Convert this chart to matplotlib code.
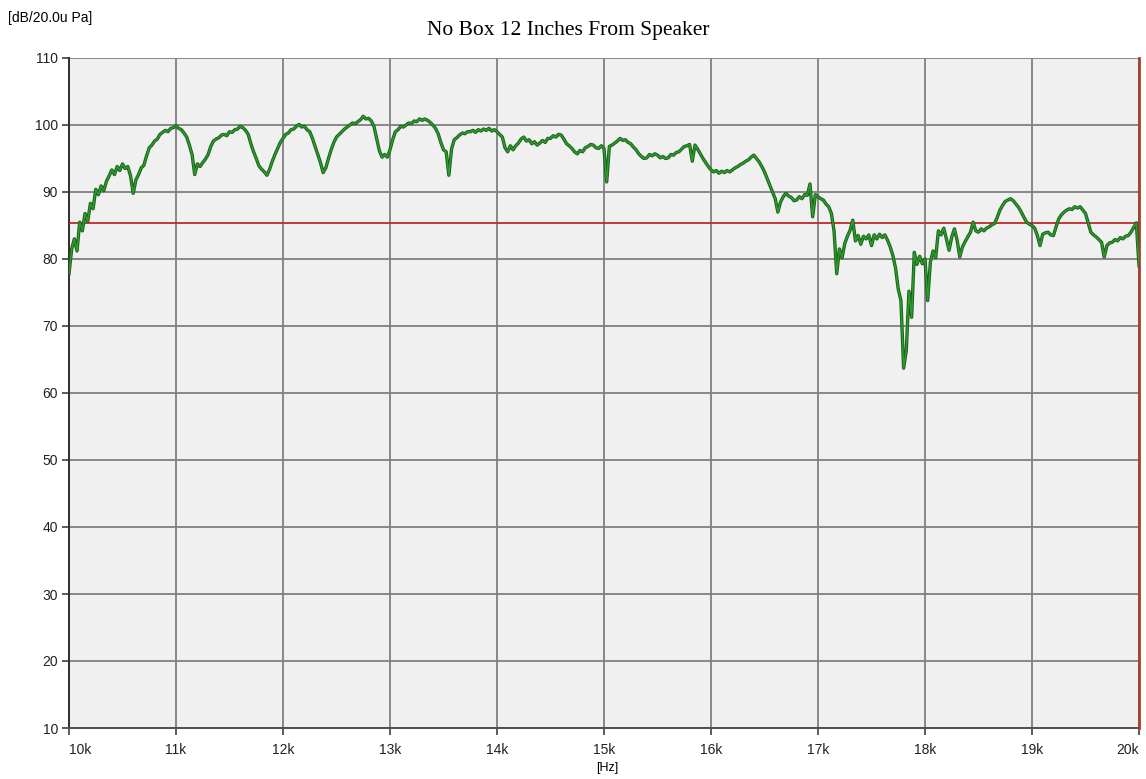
import numpy as np
import matplotlib
matplotlib.use('Agg')
import matplotlib.pyplot as plt
import matplotlib.patheffects as pe
#-----------------------------------------------------------------------------------------#

# sweep sampled every 25 Hz from 10 kHz to 20 kHz
freq_hz = np.arange(10000, 20001, 25)

level_db = [
    # 10000 - 10475
    77.8, 81.5, 83.0, 81.2, 85.5, 84.2, 86.8, 85.6, 88.3, 87.5,
    90.4, 89.6, 90.9, 90.2, 91.6, 92.4, 93.3, 92.6, 93.8, 93.2,
    # 10500 - 10975
    94.2, 93.5, 93.8, 92.4, 89.8, 91.8, 92.6, 93.6, 94.0, 95.4,
    96.6, 97.0, 97.6, 97.9, 98.6, 98.9, 99.2, 99.0, 99.5, 99.6,
    # 11000 - 11475
    99.9, 99.5, 99.3, 98.8, 98.2, 97.0, 95.6, 92.6, 94.2, 93.8,
    94.4, 94.9, 95.6, 96.8, 97.6, 97.9, 98.1, 98.5, 98.6, 98.4,
    # 11500 - 11975
    99.0, 98.9, 99.3, 99.4, 99.8, 99.6, 99.2, 98.6, 97.2, 96.0,
    95.0, 93.9, 93.4, 93.0, 92.5, 93.4, 94.6, 95.6, 96.5, 97.4,
    # 12000 - 12475
    98.0, 98.6, 98.8, 99.3, 99.4, 99.8, 100.1, 99.7, 99.8, 99.3,
    99.0, 98.0, 96.8, 95.6, 94.4, 92.9, 93.6, 95.0, 96.3, 97.4,
    # 12500 - 12975
    98.2, 98.6, 99.0, 99.4, 99.7, 100.0, 100.3, 100.2, 100.5, 100.8,
    101.3, 100.9, 101.0, 100.6, 99.8, 98.0, 96.2, 95.2, 95.6, 95.2,
    # 13000 - 13475
    96.3, 97.8, 99.0, 99.3, 99.8, 99.7, 100.0, 100.3, 100.2, 100.6,
    100.5, 100.9, 100.7, 100.9, 100.7, 100.4, 100.0, 99.5, 98.7, 97.4,
    # 13500 - 13975
    96.3, 96.0, 92.5, 96.4, 97.8, 98.1, 98.5, 98.8, 98.7, 99.0,
    99.0, 99.2, 98.9, 99.3, 99.1, 99.4, 99.2, 99.5, 99.1, 99.3,
    # 14000 - 14475
    99.0, 98.6, 98.2, 96.6, 96.0, 96.9, 96.3, 96.9, 97.3, 97.9,
    98.2, 97.6, 97.8, 97.2, 97.5, 97.0, 97.3, 97.7, 97.4, 98.0,
    # 14500 - 14975
    98.0, 98.4, 98.2, 98.6, 98.5, 97.9, 97.2, 96.9, 96.5, 96.0,
    95.7, 96.2, 96.0, 96.6, 96.8, 97.1, 97.0, 96.6, 96.5, 96.9,
    # 15000 - 15475
    96.5, 91.5, 96.8, 97.0, 97.3, 97.6, 98.0, 97.7, 97.8, 97.4,
    97.2, 96.7, 96.3, 95.7, 95.3, 95.0, 95.1, 95.6, 95.4, 95.7,
    # 15500 - 15975
    95.5, 95.1, 95.3, 95.0, 95.1, 95.6, 95.5, 95.9, 96.0, 96.4,
    96.8, 96.9, 97.1, 94.6, 97.0, 96.4, 95.7, 95.0, 94.4, 93.8,
    # 16000 - 16475
    93.3, 93.0, 93.2, 92.8, 93.1, 92.9, 93.2, 93.0, 93.3, 93.6,
    93.8, 94.1, 94.3, 94.6, 94.8, 95.2, 95.5, 95.0, 94.5, 93.8,
    # 16500 - 16975
    93.0, 92.0, 91.0, 90.0, 89.0, 87.0, 88.5, 89.3, 89.8, 89.4,
    89.2, 88.7, 88.8, 89.3, 89.0, 89.6, 89.5, 91.2, 86.3, 89.6,
    # 17000 - 17475
    89.3, 89.0, 88.8, 88.2, 87.8, 86.8, 84.2, 77.8, 81.5, 80.2,
    82.3, 83.4, 84.3, 85.8, 82.7, 83.5, 82.2, 83.4, 83.0, 83.6,
    # 17500 - 17975
    82.0, 83.6, 83.0, 83.7, 83.2, 83.6, 82.8, 81.8, 80.5, 78.6,
    75.5, 73.8, 63.7, 66.3, 75.2, 71.3, 81.0, 79.2, 80.4, 79.3,
    # 18000 - 18475
    80.0, 73.8, 79.5, 81.2, 80.2, 84.2, 83.6, 84.6, 83.0, 81.3,
    83.3, 84.5, 82.8, 80.3, 81.8, 82.6, 83.3, 84.0, 85.5, 84.2,
    # 18500 - 18975
    84.0, 84.5, 84.2, 84.6, 84.8, 85.1, 85.3, 86.2, 87.3, 88.0,
    88.6, 88.8, 89.0, 88.7, 88.2, 87.7, 87.0, 86.2, 85.5, 85.2,
    # 19000 - 19475
    85.0, 84.6, 83.5, 82.0, 83.7, 83.9, 84.0, 83.6, 83.5, 84.8,
    86.0, 86.6, 87.0, 87.3, 87.5, 87.4, 87.8, 87.6, 87.8, 87.3,
    # 19500 - 19975
    86.8, 85.4, 84.0, 83.6, 83.3, 82.9, 82.5, 80.3, 82.0, 82.4,
    82.5, 82.9, 82.7, 83.2, 83.0, 83.4, 83.5, 84.0, 84.7, 85.4,
    # 20000
    79.0,
]

reference_db = 85.3          # horizontal marker level
cursor_hz = 20000            # vertical cursor position

x_ticks = [10000, 11000, 12000, 13000, 14000, 15000, 16000, 17000, 18000, 19000, 20000]
x_tick_labels = ['10k', '11k', '12k', '13k', '14k', '15k', '16k', '17k', '18k', '19k', '20k']
y_ticks = [10, 20, 30, 40, 50, 60, 70, 80, 90, 100, 110]

#-----------------------------------------------------------------------------------------#

plt.rcParams['font.family'] = ['Liberation Sans', 'DejaVu Sans']

fig = plt.figure(figsize=(11.46, 7.79), dpi=100, facecolor='white')
ax = fig.add_axes([69 / 1146, 51 / 779, 1070 / 1146, 670 / 779])
ax.set_facecolor('#f0f0f0')

ax.set_xlim(10000, 20000)
ax.set_ylim(10, 110)
ax.set_xticks(x_ticks)
ax.set_xticklabels(x_tick_labels)
ax.set_yticks(y_ticks)

ax.grid(True, color='#808080', linewidth=1.3, linestyle='-')
ax.set_axisbelow(True)

for side in ['top', 'right']:
    ax.spines[side].set_visible(False)
ax.spines['left'].set_color('#303030')
ax.spines['bottom'].set_color('#505050')
ax.spines['left'].set_linewidth(1.4)
ax.spines['bottom'].set_linewidth(1.4)

ax.tick_params(axis='both', direction='out', length=5, width=1.2, colors='#404040',
               labelsize=10, labelcolor='#222222')
ax.tick_params(axis='x', pad=6)
ax.tick_params(axis='y', pad=3)

labels = ax.get_xticklabels()
labels[0].set_ha('left')
labels[-1].set_ha('right')

ax.axhline(reference_db, color='#c02a2a', linewidth=1.3, zorder=3)
ax.axvline(cursor_hz, color='#a8402a', linewidth=2.0, zorder=3, clip_on=False)

# response trace: bright green core with a darker green edge
ax.plot(freq_hz, level_db, color='#2f9a2f', linewidth=1.1, zorder=4,
        path_effects=[pe.Stroke(linewidth=2.4, foreground='#175f17'), pe.Normal()])

fig.text(607 / 1146, 1 - 768 / 779, '[Hz]', fontsize=9, ha='center', va='center')
fig.text(8 / 1146, 1 - 18 / 779, '[dB/20.0u Pa]', fontsize=10, ha='left', va='center')
fig.text(568 / 1146, 1 - 30 / 779, 'No Box 12 Inches From Speaker',
         family='Liberation Serif', fontsize=15.5, ha='center', va='center')

fig.savefig('out.png', dpi=100, facecolor='white')
